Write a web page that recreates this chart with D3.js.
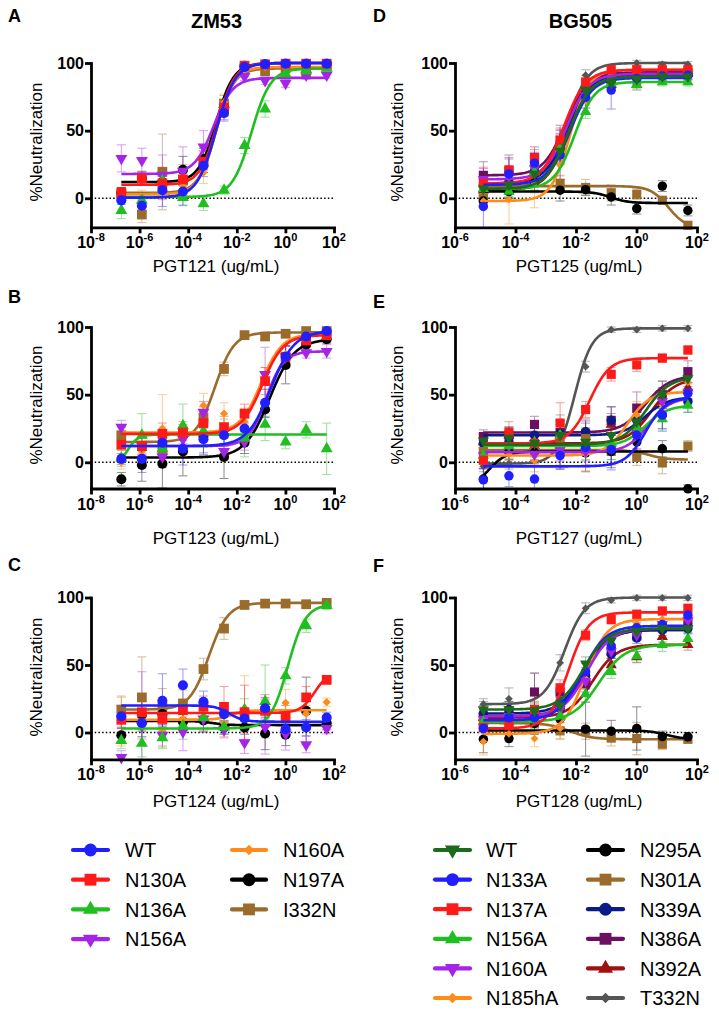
<!DOCTYPE html>
<html><head><meta charset="utf-8">
<script src="https://cdn.jsdelivr.net/npm/d3@7"></script>
<style>
body{margin:0;background:#fff}
svg{display:block}
text{font-family:Arial,"Liberation Sans",Helvetica,sans-serif;fill:#000}
</style>
</head><body>
<svg id="c" width="719" height="1015"></svg>
<script>
// ---------- DATA ----------
const concZM = [1.77e-7, 1.24e-6, 8.67e-6, 6.07e-5, 4.25e-4, 2.98e-3, 2.08e-2, 0.146, 1.02, 7.14, 50];
const concBG = [8.67e-6, 6.07e-5, 4.25e-4, 2.98e-3, 2.08e-2, 0.146, 1.02, 7.14, 50];

const namesZM = ["WT", "N130A", "N136A", "N156A", "N160A", "N197A", "I332N"];
const colorsZM = ["#1f1fff", "#ff1a1a", "#1fbf1f", "#a424e8", "#ff8c1a", "#000000", "#9b6b2c"];
const shapesZM = ["circle", "square", "triangle", "triangleDown", "diamond", "circle", "square"];

const namesBG = ["WT", "N133A", "N137A", "N156A", "N160A", "N185hA", "N295A", "N301A", "N339A", "N386A", "N392A", "T332N"];
const colorsBG = ["#1c6b1c", "#1f1fff", "#ff1a1a", "#1fbf1f", "#a424e8", "#ff8c1a", "#000000", "#9b6b2c", "#0b1a8a", "#6b0f5e", "#a01010", "#555555"];
const shapesBG = ["triangleDown", "circle", "square", "triangle", "triangleDown", "diamond", "circle", "square", "circle", "square", "triangle", "diamond"];

const xTicksZM = [1e-8, 1e-6, 1e-4, 1e-2, 1, 1e2];
const xTicksBG = [1e-6, 1e-4, 1e-2, 1, 1e2];
const yTicks = [0, 50, 100];

// Panel A: ZM53 / PGT121
const valuesA = [
  [-1.5, -5.5, 6, 5, 24, 63, 97, 99, 99.5, 99.5, 99.5],
  [4, 14.5, 11, 14, 27, 67, 98, 99, 99.5, 99.5, 99.5],
  [-9, -1.5, 13, 0.5, -4, 6, 39, 66, 92, 94, 96],
  [29.5, 28, 17, 20, 38, 65, 90, 87, 85, 91, 91],
  [3, 1, 10, 9, 19, 71, 96, 97, 97, 97, 97],
  [4, 15, 12, 21, 29, 67, 98, 99, 99.5, 99.5, 99.5],
  [3, -12, 19.5, 13, 27, 70, 96, 94, 96, 93, 98]
];
const sdA = [
  [3, 5, 12, 10, 8, 5, 2, 1, 1, 1, 1],
  [4, 5, 12, 8, 8, 6, 2, 1, 1, 1, 1],
  [6, 5, 8, 6, 5, 3, 6, 6, 3, 3, 2],
  [10, 9, 15, 18, 12, 8, 3, 3, 3, 3, 2],
  [4, 5, 10, 10, 8, 6, 2, 1, 1, 1, 1],
  [4, 5, 8, 10, 8, 6, 2, 1, 1, 1, 1],
  [5, 6, 28, 12, 8, 6, 3, 3, 2, 3, 2]
];
// fit parameters: [bottom (low conc), top (high conc), logIC50, hill]
const fitsA = [
  [0.5, 100, -2.85, 1.1], [10, 100, -2.8, 1.2], [1, 96, -1.4, 1.1], [18, 89, -2.95, 1.1],
  [3, 97, -2.85, 1.2], [12, 100, -2.85, 1.2], [4, 96, -2.85, 1.2]
];

// Panel B: ZM53 / PGT123
const valuesB = [
  [2.5, 2.5, 14.5, 10, 17, 20, 25, 44, 78, 93, 97],
  [13, 12, 21, 22, 29, 26, 36, 60, 78, 90, 94],
  [3, 20, 10, 27, 23, 22, 18, 28, 15, 24, 10],
  [26, 12, 4, 17, 37, 8, 15, 65, 78, 81, 82],
  [0, 8, 25, 18, 42, 36, 30, 62, 80, 91, 95],
  [-12.5, -2, -1, 8, 19.5, 4, 14.5, 39, 72, 87, 91],
  [20, 12, 10, 22, 33, 69, 94, 93, 95, 97, 97]
];
const sdB = [
  [4, 10, 8, 12, 10, 8, 8, 10, 8, 3, 2],
  [4, 6, 8, 6, 8, 8, 7, 10, 8, 3, 2],
  [6, 16, 10, 16, 12, 10, 14, 12, 5, 6, 19],
  [5, 7, 8, 8, 8, 6, 6, 20, 8, 4, 5],
  [5, 8, 25, 8, 9, 8, 10, 8, 6, 3, 2],
  [5, 12, 18, 18, 14, 16, 8, 6, 14, 4, 3],
  [6, 6, 6, 8, 8, 5, 2, 2, 2, 2, 2]
];
const fitsB = [
  [12, 97, -0.6, 0.9], [21, 94, -0.95, 1.0], [-3, 20.5, -6.5, 2], [12, 82, -0.8, 1.2],
  [22, 95, -1.0, 1.0], [3.5, 91, -0.65, 0.86], [15, 96, -2.9, 1.1]
];

// Panel C: ZM53 / PGT124
const valuesC = [
  [12, 7, 23.5, 35, 22.7, 13.6, 10.4, 18, 2.5, 3.7, 11],
  [9.4, 15, 10, 16.5, 19, 19, 15, 16, 12, 26, 39],
  [-6, -8, -4, 5, 11, 4, 17, 23, 42, 79, 94],
  [-18.5, 5, -2, 0.5, 10, 2, -7.5, 4, -1, -9, 3],
  [8, 5, 1, 10, 12, 7, 18, 17, 22, 14, 22.5],
  [-2, 13, 13.6, 8, 9, 3.7, 3.7, -0.7, -1.7, 16, 7],
  [17, 26, 18.5, 21.5, 47, 77, 94.5, 95.5, 95.5, 95, 96]
];
const sdC = [
  [8, 10, 20, 12, 8, 6, 6, 8, 5, 6, 4],
  [6, 8, 8, 8, 8, 15, 20, 12, 8, 8, 3],
  [6, 10, 8, 10, 8, 5, 8, 27, 6, 5, 3],
  [5, 40, 8, 14, 10, 6, 8, 20, 12, 6, 4],
  [18, 10, 12, 8, 10, 10, 24, 8, 10, 6, 3],
  [5, 12, 8, 8, 8, 5, 5, 12, 8, 25, 5],
  [10, 30, 14, 10, 8, 8, 3, 2, 2, 2, 2]
];
const fitsC = [
  [20, 8, -2.3, 1.5], [14.5, 45, 1.2, 1.5], [3, 95, 0.1, 1.2], null,
  [9.5, 16.5, -2.2, 1.5], [8.5, 5.5, -3.0, 1.5], [17, 96, -3.15, 1.1]
];

// Panel D: BG505 / PGT125
const valuesD = [
  [7, 10, 18, 35, 80, 85, 88, 90, 90],
  [-6, 18, 26, 32, 74.6, 80, 88.6, 90.4, 91],
  [11, 21, 30, 43, 86, 95, 95, 95, 95],
  [7, 5, 19.5, 37, 64, 85, 84, 86, 86],
  [14, 16, 22, 37, 76, 88, 92, 92, 92],
  [-2, -1, 11, 24.4, 72, 92, 94, 95, 95],
  [-2, 5, 12, 6, 6.4, 1, -7.6, 9, -9],
  [0, 6, 12, 11, 8, 4, 3, -1.5, -20],
  [10, 12, 20, 36, 78, 86, 89, 91, 91],
  [17, 20, 30, 40, 80, 87, 92, 93, 93],
  [6, 8, 20, 38, 80, 84, 84, 93, 93],
  [8, 12, 22, 42, 91, 96, 100, 99, 99]
];
const sdD = [
  [8, 10, 8, 10, 5, 4, 4, 3, 3],
  [22, 12, 8, 18, 8, 14, 4, 3, 3],
  [12, 8, 6, 8, 5, 3, 3, 3, 3],
  [5, 5, 6, 8, 5, 4, 3, 3, 3],
  [8, 8, 8, 10, 5, 4, 3, 3, 3],
  [4, 18, 18, 8, 5, 3, 3, 3, 3],
  [4, 4, 6, 8, 4, 6, 4, 4, 4],
  [4, 6, 8, 6, 6, 6, 4, 3, 3],
  [8, 8, 8, 10, 6, 4, 4, 3, 3],
  [10, 12, 8, 14, 6, 4, 4, 3, 3],
  [6, 8, 8, 10, 5, 4, 4, 3, 3],
  [6, 6, 8, 10, 4, 3, 2, 2, 2]
];
const fitsD = [
  [7, 90, -2.25, 1.2], [10, 89, -2.2, 1.2], [11, 95, -2.4, 1.2], [7, 86, -2.05, 1.3],
  [14, 92, -2.3, 1.2], [-2, 95, -2.2, 1.4], [5, -3.5, -0.85, 1.5], [9, -22, 1.05, 1.5],
  [11, 91, -2.3, 1.2], [17, 93, -2.35, 1.2], [6, 93, -2.25, 1.2], [8, 100, -2.3, 1.3]
];

// Panel E: BG505 / PGT127
const valuesE = [
  [16, 18, 14, 20, 15, 20, 30, 50, 62],
  [-13, -10, -12.4, 5, 11, 9.4, 20, 35, 51],
  [1.5, 22, 14, 29, 39, 65, 72, 77, 83],
  [5, 12, 15, 20, 12, 14, 26, 32, 42],
  [5, 12, 6, 9, 8, 10, 22, 45, 52],
  [5, 6, 1, 8, 6, 20.6, 35, 42, 59],
  [-12.4, 7.7, 7.4, 7, 7, 8, 15, 10, -19.6],
  [8, 10, 8, 18, 17.6, 8, 3.7, -0.5, 12],
  [14, 15, 20, 21, 22.6, 31, 31, 35, 45],
  [19, 20, 28, 22, 21, 31, 40, 50, 67],
  [15, 20, 12, 20, 22, 28, 27, 45, 55],
  [-3, -1, 5, 29, 70.7, 98, 98, 99, 99]
];
const sdE = [
  [6, 8, 8, 10, 8, 8, 10, 10, 6],
  [8, 8, 10, 10, 10, 15, 12, 12, 8],
  [6, 8, 6, 15, 6, 5, 5, 3, 3],
  [6, 6, 8, 8, 10, 12, 12, 8, 5],
  [6, 6, 8, 8, 10, 12, 12, 10, 6],
  [6, 6, 8, 10, 12, 10, 10, 12, 6],
  [8, 6, 6, 12, 14, 12, 10, 6, 3],
  [6, 8, 6, 10, 8, 6, 6, 8, 4],
  [6, 8, 8, 10, 8, 10, 12, 10, 8],
  [5, 6, 6, 8, 8, 10, 12, 10, 8],
  [6, 6, 8, 8, 10, 8, 10, 10, 8],
  [4, 4, 6, 6, 4, 2, 2, 2, 2]
];
const fitsE = [
  [13, 63, 0.3, 1.1], [-3, 48, 0.3, 1.3], [14, 77, -1.55, 1.3], [12, 42, 0.3, 1.2],
  [7.5, 48, 0.4, 1.2], [5, 52, -0.3, 1.2], [-20, 8, -4.9, 1.5], [9, 2, 0.4, 1.5],
  [20, 48, 0.3, 1.2], [22, 64, 0.3, 1.1], [14, 62, 0.5, 1.1], [-1, 99, -2.05, 1.5]
];

// Panel F: BG505 / PGT128
const valuesF = [
  [17, 17, 16, 20, 51, 68, 75, 77, 77],
  [3, 11, 11, 21.6, 45, 64, 77.6, 80, 87],
  [3.7, 5, 17, 33, 72, 83.6, 87.6, 90, 92],
  [8, 8, 9, 12, 28.5, 45, 56.6, 65, 69.5],
  [10, 12, 10, 17, 38, 60, 72, 80, 83],
  [-6.7, -1, -4.5, 3, 40, 65, 80.6, 84, 83],
  [-5, -4.5, 6.7, 10, 2.5, 1, 3, -3, -3.2],
  [7.4, 5, 7, 1.2, 1, -4, -4.5, -8.7, -5],
  [14, 17, 12, 18, 42, 58, 70, 76, 77],
  [12, 13, 30, 30, 36, 60, 72, 78, 82],
  [11, 12, 15, 18, 40, 50, 56, 71, 65],
  [21, 25, 30, 51.6, 92, 98, 99.7, 99.7, 99.7]
];
const sdF = [
  [6, 6, 6, 8, 5, 5, 4, 3, 3],
  [6, 8, 6, 8, 6, 6, 4, 4, 4],
  [4, 6, 6, 6, 4, 3, 3, 3, 3],
  [6, 6, 6, 8, 6, 5, 5, 5, 4],
  [6, 6, 6, 8, 6, 5, 4, 4, 4],
  [10, 6, 6, 8, 6, 5, 4, 4, 4],
  [10, 6, 8, 6, 20, 8, 16, 4, 3],
  [6, 6, 8, 6, 6, 6, 12, 4, 3],
  [6, 6, 6, 8, 6, 5, 4, 4, 4],
  [6, 6, 14, 6, 6, 5, 4, 4, 4],
  [6, 6, 6, 8, 6, 5, 4, 4, 4],
  [4, 8, 14, 6, 4, 2, 2, 2, 2]
];
const fitsF = [
  [17, 77, -1.75, 1.1], [9, 79, -1.8, 1.1], [3, 89, -2.25, 1.3], [8, 65, -1.25, 1.0],
  [12, 77, -1.65, 1.1], [-1, 84, -1.7, 1.2], [1.5, -5, 1.0, 1.5], [7, -5, -2.2, 1.2],
  [14, 76, -1.75, 1.1], [12, 76, -1.7, 1.1], [11, 65, -1.45, 1.1], [21, 100, -2.38, 1.3]
];

// ---------- LAYOUT ----------
const svg = d3.select("#c");
const FONT = 'Arial,"Liberation Sans",Helvetica,sans-serif';

const rows = [
  {y100: 63, y0: 198.3, yb: 227.3, labDy: 45, yLabC: 142},
  {y100: 327, y0: 462.3, yb: 488.5, labDy: 55, yLabC: 405},
  {y100: 597.5, y0: 732.5, yb: 759.3, labDy: 48, yLabC: 677}
];
const cols = [
  {x0: 91, x1: 334, dom: [1e-8, 1e2], ticks: xTicksZM, yLabX: 42, labCX: 216, letX: 8,
   names: namesZM, colors: colorsZM, shapes: shapesZM, conc: concZM, mk: 1.0},
  {x0: 455, x1: 697, dom: [1e-6, 1e2], ticks: xTicksBG, yLabX: 403, labCX: 579, letX: 373,
   names: namesBG, colors: colorsBG, shapes: shapesBG, conc: concBG, mk: 0.88}
];

const panels = [
  {c: 0, r: 0, letter: "A", letY: 22, xl: "PGT121 (ug/mL)", v: valuesA, sd: sdA, f: fitsA},
  {c: 0, r: 1, letter: "B", letY: 303, xl: "PGT123 (ug/mL)", v: valuesB, sd: sdB, f: fitsB},
  {c: 0, r: 2, letter: "C", letY: 571, xl: "PGT124 (ug/mL)", v: valuesC, sd: sdC, f: fitsC},
  {c: 1, r: 0, letter: "D", letY: 22, xl: "PGT125 (ug/mL)", v: valuesD, sd: sdD, f: fitsD},
  {c: 1, r: 1, letter: "E", letY: 308, xl: "PGT127 (ug/mL)", v: valuesE, sd: sdE, f: fitsE},
  {c: 1, r: 2, letter: "F", letY: 572, xl: "PGT128 (ug/mL)", v: valuesF, sd: sdF, f: fitsF}
];

// marker path generator
const baseSize = {circle: 80, square: 95, triangle: 62, triangleDown: 62, diamond: 34};
function symPath(shape, scale) {
  const size = baseSize[shape] * scale;
  if (shape === "circle") return d3.symbol(d3.symbolCircle, size)();
  if (shape === "square") return d3.symbol(d3.symbolSquare, size)();
  if (shape === "triangle" || shape === "triangleDown") return d3.symbol(d3.symbolTriangle, size)();
  if (shape === "diamond") return d3.symbol(d3.symbolSquare, size)();
}
function symTransform(shape, x, y) {
  if (shape === "triangleDown") return `translate(${x},${y}) rotate(180)`;
  if (shape === "diamond") return `translate(${x},${y}) rotate(45)`;
  return `translate(${x},${y})`;
}

// Titles
svg.append("text").attr("x", 216.5).attr("y", 28).attr("text-anchor", "middle")
  .attr("font-size", 20).attr("font-weight", "bold").text("ZM53");
svg.append("text").attr("x", 580.5).attr("y", 28).attr("text-anchor", "middle")
  .attr("font-size", 20).attr("font-weight", "bold").text("BG505");

panels.forEach(p => {
  const col = cols[p.c], row = rows[p.r];
  const x = d3.scaleLog().domain(col.dom).range([col.x0, col.x1]);
  const pxPerUnit = (row.y0 - row.y100) / 100;
  const yMin = -(row.yb - row.y0) / pxPerUnit;
  const y = d3.scaleLinear().domain([yMin, 100]).range([row.yb, row.y100]);
  const g = svg.append("g");

  // letter
  svg.append("text").attr("x", col.letX).attr("y", p.letY)
    .attr("font-size", 18).attr("font-weight", "bold").text(p.letter);

  // zero dotted line
  g.append("line").attr("x1", col.x0).attr("x2", col.x1).attr("y1", y(0)).attr("y2", y(0))
    .attr("stroke", "#000").attr("stroke-width", 1.5).attr("stroke-dasharray", "1.5,2.2");

  const n = col.names.length;
  const order = d3.range(n).reverse();

  // error bars
  order.forEach(i => {
    const vals = p.v[i], sds = p.sd[i];
    const eg = g.append("g").attr("stroke", col.colors[i]).attr("stroke-width", 1).attr("opacity", 0.45);
    vals.forEach((v, j) => {
      const cx = x(col.conc[j]);
      const yt = y(Math.min(v + sds[j], 118));
      const ybt = Math.min(y(v - sds[j]), row.yb);
      eg.append("line").attr("x1", cx).attr("x2", cx).attr("y1", yt).attr("y2", ybt);
      eg.append("line").attr("x1", cx - 4.5).attr("x2", cx + 4.5).attr("y1", yt).attr("y2", yt);
      if (y(v - sds[j]) <= row.yb)
        eg.append("line").attr("x1", cx - 4.5).attr("x2", cx + 4.5).attr("y1", ybt).attr("y2", ybt);
    });
  });

  // curves and points
  order.forEach(i => {
    const fit = p.f[i];
    const color = col.colors[i];
    if (fit) {
      const [b, t, ic, h] = fit;
      const lo = Math.log10(col.conc[0]), hi = Math.log10(col.conc[col.conc.length - 1]);
      const pts = d3.range(0, 161).map(k => {
        const lx = lo + (hi - lo) * k / 160;
        return [x(Math.pow(10, lx)), y(b + (t - b) / (1 + Math.pow(10, (ic - lx) * h)))];
      });
      g.append("path").attr("d", d3.line()(pts)).attr("fill", "none")
        .attr("stroke", color).attr("stroke-width", 2.6);
    }
    const sh = col.shapes[i];
    p.v[i].forEach((v, j) => {
      g.append("path").attr("d", symPath(sh, col.mk))
        .attr("transform", symTransform(sh, x(col.conc[j]), y(v)))
        .attr("fill", color);
    });
  });

  // axes
  const xAxis = d3.axisBottom(x).tickValues(col.ticks).tickSize(6).tickSizeOuter(0).tickFormat("");
  const ax = svg.append("g").attr("transform", `translate(0,${row.yb})`).call(xAxis);
  ax.selectAll("path,line").attr("stroke", "#000").attr("stroke-width", 2.8);
  ax.select("path.domain").attr("stroke-linecap", "square");
  col.ticks.forEach(tv => {
    const e = Math.round(Math.log10(tv));
    const t = svg.append("text").attr("x", x(tv)).attr("y", row.yb + 21)
      .attr("text-anchor", "middle").attr("font-size", 16).attr("font-weight", "bold");
    t.append("tspan").text("10");
    t.append("tspan").attr("dy", -7).attr("font-size", 11).text(String(e));
  });

  const yAxis = d3.axisLeft(y).tickValues(yTicks).tickSize(6).tickSizeOuter(0).tickFormat("");
  const ay = svg.append("g").attr("transform", `translate(${col.x0},0)`).call(yAxis);
  ay.selectAll("path,line").attr("stroke", "#000").attr("stroke-width", 2.8);
  ay.select("path.domain").attr("stroke-linecap", "square");
  yTicks.forEach(tv => {
    svg.append("text").attr("x", col.x0 - 7).attr("y", y(tv)).attr("dy", "0.36em")
      .attr("text-anchor", "end").attr("font-size", 16).attr("font-weight", "bold").text(String(tv));
  });

  // axis titles
  svg.append("text").attr("x", col.labCX).attr("y", row.yb + row.labDy)
    .attr("text-anchor", "middle").attr("font-size", 17).text(p.xl);
  svg.append("text").attr("transform", `translate(${col.yLabX},${row.yLabC}) rotate(-90)`)
    .attr("text-anchor", "middle").attr("font-size", 17).text("%Neutralization");
});

// ---------- LEGENDS ----------
const legendSize = {circle: 130, square: 140, triangle: 100, triangleDown: 100, diamond: 55};
function legend(names, colors, shapes, perCol, colDefs, y0, dy) {
  names.forEach((nm, i) => {
    const c = colDefs[Math.floor(i / perCol)];
    const yy = y0 + (i % perCol) * dy;
    const g = svg.append("g");
    g.append("line").attr("x1", c.l0).attr("x2", c.l1).attr("y1", yy).attr("y2", yy)
      .attr("stroke", colors[i]).attr("stroke-width", 4.2).attr("stroke-linecap", "round");
    const sh = shapes[i];
    const typ = sh === "circle" ? d3.symbolCircle : (sh === "square" || sh === "diamond") ? d3.symbolSquare : d3.symbolTriangle;
    g.append("path").attr("d", d3.symbol(typ, legendSize[sh])())
      .attr("transform", symTransform(sh, (c.l0 + c.l1) / 2, yy)).attr("fill", colors[i]);
    g.append("text").attr("x", c.tx).attr("y", yy + 7.3).attr("font-size", 20).text(nm);
  });
}
legend(namesZM, colorsZM, shapesZM, 4,
  [{l0: 73, l1: 108, tx: 125}, {l0: 232, l1: 266, tx: 283}], 850, 29.7);
legend(namesBG, colorsBG, shapesBG, 6,
  [{l0: 435, l1: 470, tx: 486}, {l0: 588, l1: 623, tx: 640}], 850, 29.6);
</script>
</body></html>
